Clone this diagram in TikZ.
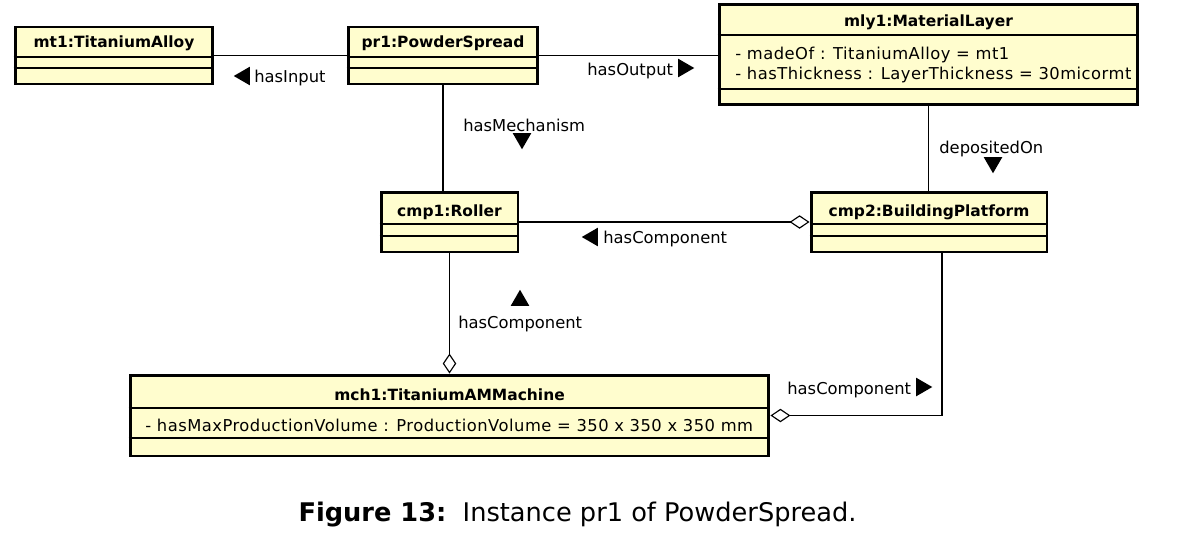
\documentclass[tikz,border=0pt]{standalone}
\usepackage{fontspec}
\setmainfont{DejaVu Sans}
\newfontfamily\attrfont[LetterSpace=3]{DejaVu Sans}
\usetikzlibrary{arrows.meta,positioning,shapes.geometric}
\definecolor{classfill}{RGB}{255,253,206}
\tikzset{
  classbox/.style={
    draw,
    line width = 1.7pt,
    fill = classfill,
    inner sep = 0pt
  },
  compline/.style={
    line width = 0.7pt
  },
  classname/.style={
    anchor = base,
    inner sep = 0pt,
    font = \fontsize{8.8}{10}\selectfont\bfseries
  },
  attr/.style={
    anchor = base west,
    inner sep = 0pt,
    font = \attrfont\fontsize{9.3}{11}\selectfont
  },
  role/.style={
    anchor = base west,
    inner sep = 0pt,
    font = \fontsize{9.3}{11}\selectfont
  },
  link/.style={
    line width = 0.65pt
  },
  aggr/.style={
    link,
    -{Diamond[open, length=0.4cm, width=0.27cm, line width=0.65pt]}
  },
  dir/.style={
    regular polygon,
    regular polygon sides = 3,
    fill,
    inner sep = 0pt,
    minimum size = 0.43cm
  },
  dirup/.style={dir},
  dirleft/.style={dir, shape border rotate=90},
  dirdown/.style={dir, shape border rotate=180},
  dirright/.style={dir, shape border rotate=270},
}

\begin{document}
\begin{tikzpicture}[x=0.02cm, y=-0.02cm]
  \useasboundingbox (0,0) rectangle (1192,541);
  % class boxes
  \node[classbox, minimum width=3.96cm, minimum height=1.14cm] (mt1) at (114,55.5) {};
  \node[classbox, minimum width=3.80cm, minimum height=1.14cm] (pr1) at (443,55.5) {};
  \node[classbox, minimum width=8.38cm, minimum height=2.02cm] (mly1) at (928.5,54.5) {};
  \node[classbox, minimum width=2.74cm, minimum height=1.20cm] (roller) at (449.5,222) {};
  \node[classbox, minimum width=4.72cm, minimum height=1.20cm] (cmp2) at (929,222) {};
  \node[classbox, minimum width=12.78cm, minimum height=1.62cm] (mch1) at (449.5,415.5) {};
  \foreach \b/\y in {mt1/57, mt1/68, pr1/57, pr1/68, mly1/35, mly1/89,
                     roller/224, roller/236, cmp2/224, cmp2/236, mch1/408, mch1/438}
    \draw[compline] (\b.west |- 0,\y) -- (\b.east |- 0,\y);

  \node[classname] (mt1name) at (114,47) {mt1:TitaniumAlloy};
  \node[classname] (pr1name) at (443,47) {pr1:PowderSpread};
  \node[classname] (mly1name) at (928.5,27) {mly1:MaterialLayer};
  \node[classname] (rollername) at (449.5,216) {cmp1:Roller};
  \node[classname] (cmp2name) at (929,216) {cmp2:BuildingPlatform};
  \node[classname] (mch1name) at (449.5,400) {mch1:TitaniumAMMachine};

  \node[attr] (madeof) at (735,59) {- madeOf : TitaniumAlloy = mt1};
  \node[attr] (thick) at (735,79) {- hasThickness : LayerThickness = 30micormt};
  \node[attr] (maxvol) at (145,431) {- hasMaxProductionVolume : ProductionVolume = 350 x 350 x 350 mm};

  % links
  \draw[link] (mt1) -- (pr1);
  \draw[link] (pr1.east) -- (pr1.east -| mly1.west);
  \draw[link] (pr1.south) -- (pr1.south |- roller.north);
  \draw[link] (mly1.south) -- (mly1.south |- cmp2.north);
  \draw[aggr] (roller) -- (cmp2);
  \draw[aggr] (roller.south) -- (roller.south |- mch1.north);
  \draw[aggr] ([xshift=0.26cm]cmp2.south) |- (mch1.east);

  % role names
  \node[role] (inputlbl) at (254,82) {hasInput};
  \node[dirleft] (inputdir) at (244.5,76) {};
  \node[role] (outputlbl) at (587,75) {hasOutput};
  \node[dirright] (outputdir) at (683.5,68) {};
  \node[role] (mechlbl) at (463,131) {hasMechanism};
  \node[dirdown] (mechdir) at (522,138.5) {};
  \node[role] (deplbl) at (939,153) {depositedOn};
  \node[dirdown] (depdir) at (993,162.5) {};
  \node[role] (compAlbl) at (603,243) {hasComponent};
  \node[dirleft] (compAdir) at (592.5,237) {};
  \node[role] (compBlbl) at (458,328) {hasComponent};
  \node[dirup] (compBdir) at (520,300.5) {};
  \node[role] (compClbl) at (787,394) {hasComponent};
  \node[dirright] (compCdir) at (921.5,387) {};

  \node[anchor=base, inner sep=0pt, font=\fontsize{14.6}{17}\selectfont] (caption) at (577.5,521)
    {\textbf{Figure 13:}\ \ Instance pr1 of PowderSpread.};
\end{tikzpicture}
\end{document}
